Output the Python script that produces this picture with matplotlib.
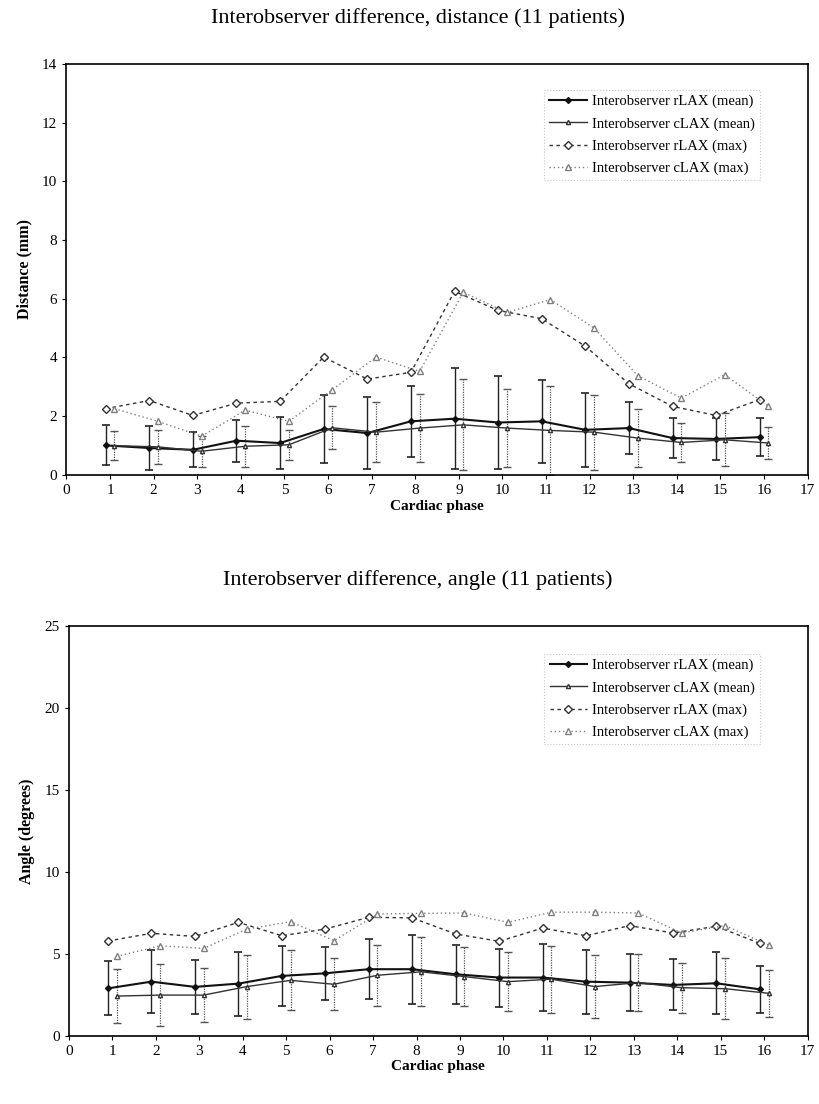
import numpy as np
import matplotlib
matplotlib.use('Agg')
import matplotlib.pyplot as plt

plt.rcParams['font.family'] = ['Liberation Serif', 'DejaVu Serif']

PHASES = np.arange(1, 17)

# distance (mm)
DIST_R_MEAN = [1.0, 0.91, 0.85, 1.16, 1.08, 1.56, 1.42, 1.82, 1.91, 1.78, 1.82, 1.53, 1.59, 1.25, 1.22, 1.28]
DIST_R_SD = [0.68, 0.74, 0.6, 0.72, 0.89, 1.16, 1.23, 1.22, 1.72, 1.6, 1.41, 1.25, 0.9, 0.68, 0.71, 0.64]
DIST_C_MEAN = [0.99, 0.95, 0.8, 0.97, 1.02, 1.6, 1.45, 1.59, 1.7, 1.59, 1.51, 1.45, 1.25, 1.1, 1.19, 1.08]
DIST_C_SD = [0.49, 0.58, 0.52, 0.7, 0.52, 0.74, 1.02, 1.15, 1.55, 1.32, 1.52, 1.28, 1.0, 0.68, 0.9, 0.56]
DIST_R_MAX = [2.25, 2.53, 2.02, 2.44, 2.5, 4.01, 3.26, 3.49, 6.25, 5.6, 5.32, 4.38, 3.1, 2.33, 2.02, 2.56]
DIST_C_MAX = [2.25, 1.82, 1.31, 2.2, 1.82, 2.9, 4.01, 3.52, 6.22, 5.53, 5.97, 5.0, 3.38, 2.61, 3.41, 2.33]

# angle (degrees)
ANG_R_MEAN = [2.88, 3.29, 2.97, 3.17, 3.64, 3.8, 4.05, 4.05, 3.74, 3.54, 3.54, 3.29, 3.23, 3.09, 3.19, 2.82]
ANG_R_SD = [1.64, 1.91, 1.66, 1.96, 1.82, 1.6, 1.84, 2.1, 1.79, 1.77, 2.04, 1.96, 1.72, 1.56, 1.89, 1.45]
ANG_C_MEAN = [2.41, 2.47, 2.47, 2.99, 3.37, 3.13, 3.68, 3.89, 3.6, 3.29, 3.44, 2.99, 3.23, 2.92, 2.86, 2.58]
ANG_C_SD = [1.63, 1.9, 1.65, 1.95, 1.84, 1.58, 1.87, 2.1, 1.8, 1.8, 2.05, 1.93, 1.75, 1.52, 1.86, 1.42]
ANG_R_MAX = [5.77, 6.24, 6.05, 6.91, 6.09, 6.5, 7.22, 7.18, 6.2, 5.75, 6.56, 6.09, 6.71, 6.26, 6.67, 5.62]
ANG_C_MAX = [4.83, 5.48, 5.32, 6.5, 6.95, 5.79, 7.42, 7.46, 7.48, 6.91, 7.53, 7.53, 7.48, 6.26, 6.71, 5.52]

LABELS = ['Interobserver rLAX (mean)', 'Interobserver cLAX (mean)',
          'Interobserver rLAX (max)', 'Interobserver cLAX (max)']


def panel(ax, r_mean, r_sd, c_mean, c_sd, r_max, c_max, ymax, ystep, ylabel, leg_top):
    xr = PHASES - 0.1
    xc = PHASES + 0.1
    # error bars
    ax.errorbar(xr, r_mean, yerr=r_sd, fmt='none', ecolor='#222222',
                elinewidth=1.0, capsize=3, capthick=1.2, zorder=2)
    e2 = ax.errorbar(xc, c_mean, yerr=c_sd, fmt='none', ecolor='#555555',
                     elinewidth=0.9, capsize=3, capthick=1.0, zorder=2)
    e2[2][0].set_linestyle((0, (1, 1)))
    # lines
    ax.plot(xr, r_mean, '-', color='#111111', lw=1.5, marker='D', ms=3,
            mfc='#111111', label=LABELS[0], zorder=3)
    ax.plot(xc, c_mean, '-', color='#333333', lw=1.0, marker='^', ms=3,
            mfc='white', label=LABELS[1], zorder=3)
    ax.plot(xr, r_max, linestyle=(0, (2.5, 2.5)), color='#333333', lw=1.0,
            marker='D', ms=4, mfc='white', label=LABELS[2], zorder=3)
    ax.plot(xc, c_max, linestyle=(0, (1, 2)), color='#808080', lw=1.0,
            marker='^', ms=4, mfc='white', label=LABELS[3], zorder=3)

    ax.set_xlim(0, 17)
    ax.set_ylim(0, ymax)
    ax.set_xticks(range(0, 18))
    ax.set_yticks(np.arange(0, ymax + 0.1, ystep))
    ax.tick_params(direction='out', length=3, labelsize=11, width=0.8)
    for s in ax.spines.values():
        s.set_linewidth(1.2)
    ax.set_xlabel('Cardiac phase', fontsize=11, fontweight='bold', labelpad=2)
    ax.set_ylabel(ylabel, fontsize=11.5, fontweight='bold', labelpad=7)
    leg = ax.legend(loc='upper right', fontsize=10.5, frameon=True, fancybox=False,
                    handlelength=2.6, handletextpad=0.3, labelspacing=0.6,
                    borderpad=0.35, bbox_to_anchor=(0.945, leg_top))
    leg.get_frame().set_edgecolor('#bbbbbb')
    leg.get_frame().set_linestyle(':')
    leg.get_frame().set_linewidth(0.8)


fig = plt.figure(figsize=(8.2, 11.04), dpi=100)
ax1 = fig.add_axes([0.081, 0.570, 0.904, 0.372])
ax2 = fig.add_axes([0.084, 0.062, 0.901, 0.371])

panel(ax1, DIST_R_MEAN, DIST_R_SD, DIST_C_MEAN, DIST_C_SD, DIST_R_MAX, DIST_C_MAX,
      14, 2, 'Distance (mm)', 0.955)
panel(ax2, ANG_R_MEAN, ANG_R_SD, ANG_C_MEAN, ANG_C_SD, ANG_R_MAX, ANG_C_MAX,
      25, 5, 'Angle (degrees)', 0.95)

fig.text(0.51, 1 - 18 / 1104, 'Interobserver difference, distance (11 patients)',
         ha='center', va='center', fontsize=16)
fig.text(0.51, 1 - 580 / 1104, 'Interobserver difference, angle (11 patients)',
         ha='center', va='center', fontsize=16)

fig.savefig('out.png', dpi=100)
